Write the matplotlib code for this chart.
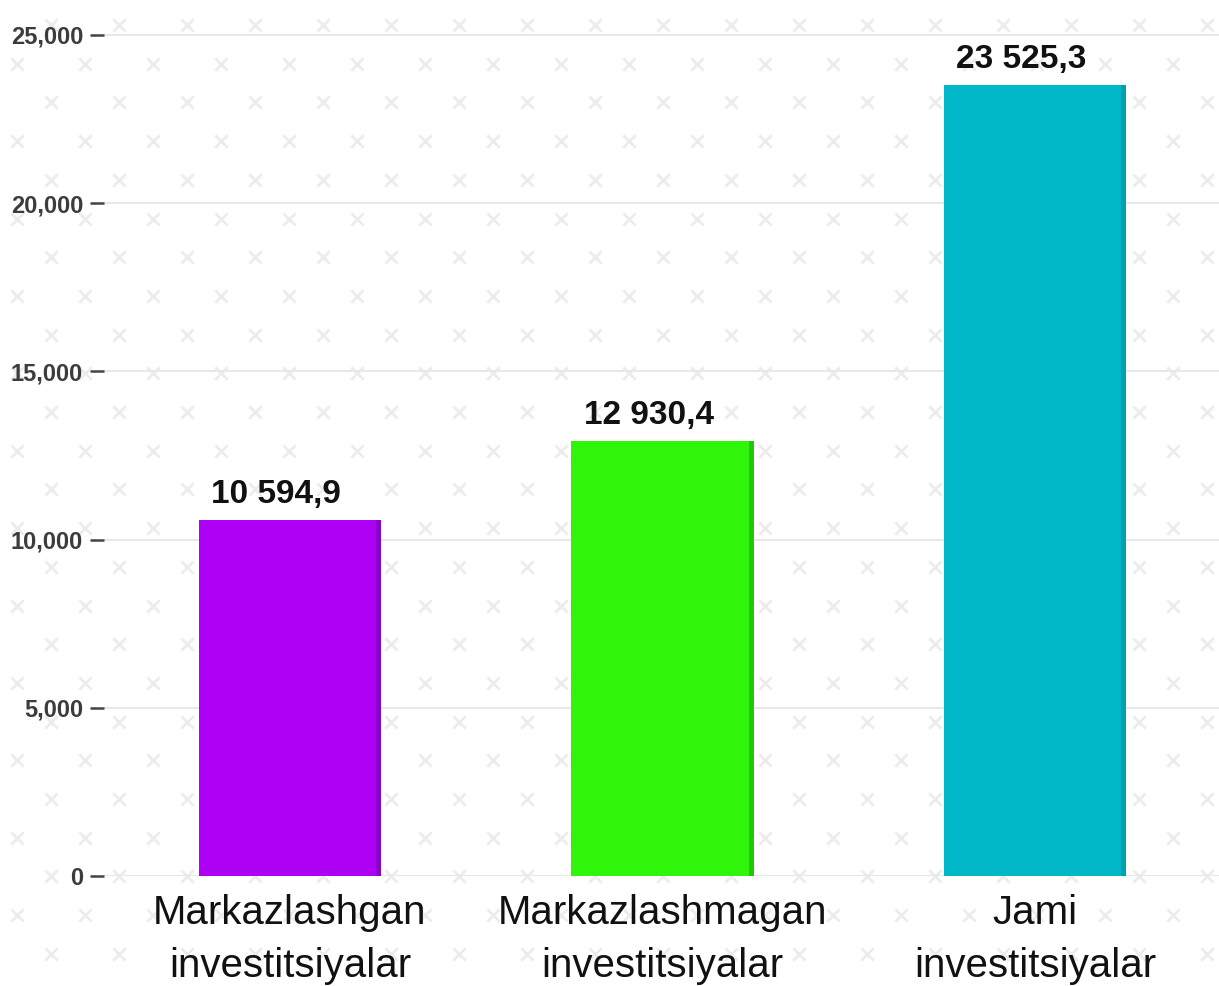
import matplotlib
matplotlib.use("Agg")
import matplotlib.pyplot as plt
from matplotlib import font_manager
import numpy as np

categories = ["Markazlashgan\ninvestitsiyalar", "Markazlashmagan\ninvestitsiyalar", "Jami\ninvestitsiyalar"]
values = [10594.9, 12930.4, 23525.3]
value_labels = ["10 594,9", "12 930,4", "23 525,3"]
colors = ["#ad00f5", "#2ff50a", "#00b8c8"]
side_colors = ["#8c00cc", "#22c808", "#00a0ae"]
yticks = [0, 5000, 10000, 15000, 20000, 25000]
ytick_labels = ["0", "5,000", "10,000", "15,000", "20,000", "25,000"]

names = {f.name for f in font_manager.fontManager.ttflist}
if "Liberation Sans Narrow" in names:
    cond_font = "Liberation Sans Narrow"
    val_size, tick_size = 29, 21
else:
    cond_font = "Liberation Sans"
    val_size, tick_size = 24, 17

W, H = 1219, 986
fig = plt.figure(figsize=(W / 100, H / 100), dpi=100)
fig.patch.set_facecolor("white")

# background x-pattern
bg = fig.add_axes([0, 0, 1, 1], zorder=-5)
bg.set_xlim(0, W)
bg.set_ylim(H, 0)
bg.axis("off")
px, py = [], []
for r in range(27):
    y = 25 + 38.7 * r
    x0 = 51 if r % 2 == 0 else 17
    for x in np.arange(x0, W + 40, 68):
        px.append(x)
        py.append(y)
bg.scatter(px, py, marker="x", s=80, linewidths=2.0, color="#ececec")

left, bottom_px = 104, 876
ax = fig.add_axes([left / W, (H - bottom_px) / H, (W - left) / W, bottom_px / H])
ax.patch.set_alpha(0)
x = np.arange(len(categories))
ax.set_xlim(-0.4993, 2.494)
ax.set_ylim(0, 26040)

ax.set_yticks(yticks)
ax.set_yticklabels(ytick_labels, fontfamily=cond_font, fontweight="bold",
                   fontsize=tick_size, color="#3c3c3c")
ax.tick_params(axis="y", length=10, width=1.8, color="#444444", pad=5)
ax.yaxis.grid(True, color="#e8e8e8", linewidth=1.5)
ax.set_axisbelow(True)

bw = 0.49
sw = 0.014
ax.bar(x, values, width=bw, color=colors, zorder=3)
ax.bar(x + bw / 2 - sw / 2, values, width=sw, color=side_colors, zorder=4)

for xi, v, lab in zip(x, values, value_labels):
    ax.annotate(lab, (xi, v), xytext=(-10, 7), textcoords="offset points",
                ha="center", va="bottom", fontfamily=cond_font,
                fontweight="bold", fontsize=val_size, color="#111111", zorder=5)

ax.set_xticks(x)
ax.set_xticklabels(categories, fontfamily="Liberation Sans", fontsize=29,
                   color="#111111", linespacing=1.5)
ax.tick_params(axis="x", length=0, pad=13)

for s in ax.spines.values():
    s.set_visible(False)

fig.savefig("out.png", dpi=100, facecolor="white")
